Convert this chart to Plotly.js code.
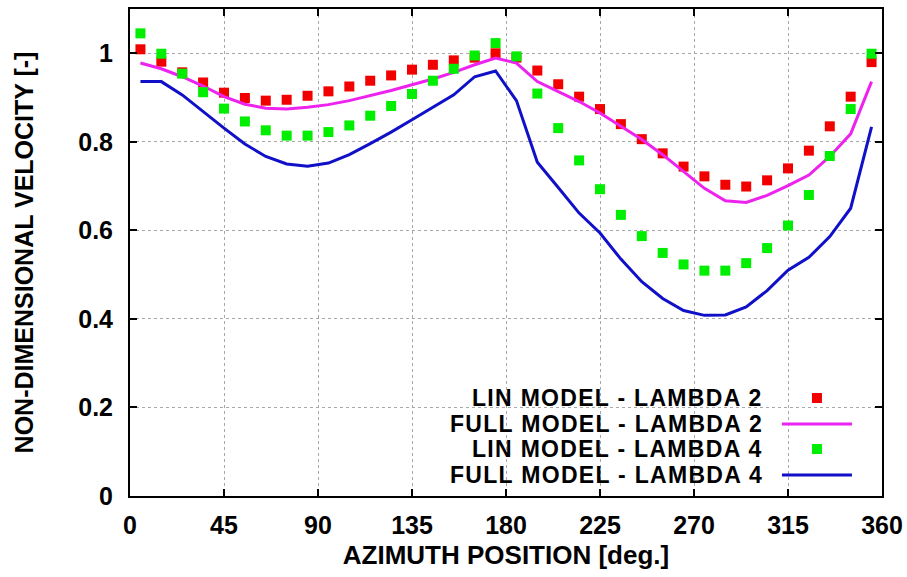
<!DOCTYPE html>
<html>
<head>
<meta charset="utf-8">
<script src="https://cdn.plot.ly/plotly-3.0.1.min.js"></script>
<style>
  html, body { margin: 0; padding: 0; background: #ffffff; }
  #chart { width: 907px; height: 577px; }
  .annotation-text { letter-spacing: 1.3px; }
</style>
</head>
<body>
<div id="chart"></div>
<script>
// Azimuth positions (deg.)
const azimuth = [5, 15, 25, 35, 45, 55, 65, 75, 85, 95, 105, 115, 125, 135, 145, 155, 165, 175,
                 185, 195, 205, 215, 225, 235, 245, 255, 265, 275, 285, 295, 305, 315, 325, 335, 345, 355];

// LIN MODEL - LAMBDA 2 (red squares)
const linLambda2 = [1.009, 0.981, 0.957, 0.934, 0.911, 0.899, 0.893, 0.895, 0.904, 0.914, 0.925, 0.938,
                    0.950, 0.963, 0.974, 0.984, 0.990, 1.000, 0.990, 0.961, 0.930, 0.902, 0.874, 0.840,
                    0.806, 0.774, 0.744, 0.722, 0.703, 0.699, 0.713, 0.740, 0.780, 0.835, 0.902, 0.980];

// FULL MODEL - LAMBDA 2 (magenta line)
const fullLambda2 = [0.978, 0.965, 0.947, 0.926, 0.902, 0.885, 0.876, 0.874, 0.878, 0.884, 0.893, 0.904,
                     0.916, 0.929, 0.942, 0.957, 0.974, 0.989, 0.978, 0.936, 0.914, 0.891, 0.865, 0.835,
                     0.805, 0.771, 0.733, 0.695, 0.667, 0.663, 0.679, 0.701, 0.725, 0.767, 0.818, 0.936];

// LIN MODEL - LAMBDA 4 (green squares)
const linLambda4 = [1.045, 0.999, 0.954, 0.912, 0.875, 0.846, 0.826, 0.814, 0.814, 0.822, 0.837, 0.859,
                    0.881, 0.908, 0.938, 0.965, 0.995, 1.023, 0.993, 0.909, 0.831, 0.758, 0.693, 0.635,
                    0.587, 0.549, 0.523, 0.509, 0.509, 0.526, 0.560, 0.611, 0.680, 0.768, 0.874, 0.999];

// FULL MODEL - LAMBDA 4 (blue line)
const fullLambda4 = [0.936, 0.936, 0.906, 0.868, 0.831, 0.795, 0.767, 0.750, 0.745, 0.752, 0.771, 0.796,
                     0.822, 0.850, 0.878, 0.906, 0.947, 0.960, 0.893, 0.754, 0.697, 0.639, 0.594, 0.535,
                     0.484, 0.446, 0.419, 0.408, 0.409, 0.427, 0.464, 0.510, 0.539, 0.586, 0.650, 0.834];

const seriesNames = ["LIN MODEL - LAMBDA 2", "FULL MODEL - LAMBDA 2", "LIN MODEL - LAMBDA 4", "FULL MODEL - LAMBDA 4"];
const xTicks = [0, 45, 90, 135, 180, 225, 270, 315, 360];
const yTicks = [0, 0.2, 0.4, 0.6, 0.8, 1];

const RED = "#f20000", MAGENTA = "#ee22ee", GREEN = "#00ee00", BLUE = "#1010c8";
const FONT = "Liberation Sans, Arial, Helvetica, sans-serif";

const traces = [
  { x: azimuth, y: linLambda2, name: seriesNames[0], type: "scatter", mode: "markers",
    marker: { symbol: "square", size: 10, color: RED, line: { width: 0 } } },
  { x: azimuth, y: fullLambda2, name: seriesNames[1], type: "scatter", mode: "lines",
    line: { color: MAGENTA, width: 3 } },
  { x: azimuth, y: linLambda4, name: seriesNames[2], type: "scatter", mode: "markers",
    marker: { symbol: "square", size: 10, color: GREEN, line: { width: 0 } } },
  { x: azimuth, y: fullLambda4, name: seriesNames[3], type: "scatter", mode: "lines",
    line: { color: BLUE, width: 3 } }
];

// gnuplot-style key: right-aligned text with sample to its right
const keyRows = [0.2012, 0.1478, 0.0965, 0.0431];
const keyTextX = 0.8444;
const keySampleX = 0.9135;
const keyStyles = [
  { kind: "square", color: RED },
  { kind: "line", color: MAGENTA },
  { kind: "square", color: GREEN },
  { kind: "line", color: BLUE }
];

const annotations = seriesNames.map((n, i) => ({
  xref: "paper", yref: "paper", x: keyTextX, y: keyRows[i],
  xanchor: "right", yanchor: "middle", showarrow: false, text: n,
  font: { family: FONT, size: 23, color: "#000", weight: "bold" }
}));

const shapes = keyStyles.map((s, i) => {
  if (s.kind === "square") {
    return { type: "rect", xref: "paper", yref: "paper",
      xsizemode: "pixel", ysizemode: "pixel", xanchor: keySampleX, yanchor: keyRows[i],
      x0: -5, x1: 5, y0: -5, y1: 5, fillcolor: s.color, line: { width: 0 } };
  }
  return { type: "line", xref: "paper", yref: "paper",
    xsizemode: "pixel", ysizemode: "pixel", xanchor: keySampleX, yanchor: keyRows[i],
    x0: -35, x1: 35, y0: 0, y1: 0, line: { color: s.color, width: 3 } };
});

const axisCommon = {
  showline: true, linecolor: "#000", linewidth: 2, mirror: "ticks",
  ticks: "inside", ticklen: 7, tickwidth: 2, tickcolor: "#000",
  showgrid: true, gridcolor: "#a8a8a8", griddash: "dot", gridwidth: 1,
  zeroline: false, automargin: false,
  tickfont: { family: FONT, size: 25, color: "#000", weight: "bold" }
};

const layout = {
  width: 907, height: 577,
  margin: { l: 130, r: 25, t: 9, b: 81 },
  paper_bgcolor: "#fff", plot_bgcolor: "#fff",
  showlegend: false,
  font: { family: FONT, color: "#000" },
  xaxis: Object.assign({}, axisCommon, {
    range: [0, 360], tickvals: xTicks, ticktext: xTicks.map(String),
    ticklabelstandoff: 6,
    title: { text: "AZIMUTH POSITION [deg.]", standoff: 8,
             font: { family: FONT, size: 26, color: "#000", weight: "bold" } }
  }),
  yaxis: Object.assign({}, axisCommon, {
    range: [0, 1.1], tickvals: yTicks, ticktext: ["0", "0.2", "0.4", "0.6", "0.8", "1"],
    ticklabelstandoff: 10,
    title: { text: "NON-DIMENSIONAL VELOCITY [-]", standoff: 37,
             font: { family: FONT, size: 25, color: "#000", weight: "bold" } }
  }),
  annotations: annotations,
  shapes: shapes
};

Plotly.newPlot("chart", traces, layout, { staticPlot: true, displayModeBar: false });
</script>
</body>
</html>
